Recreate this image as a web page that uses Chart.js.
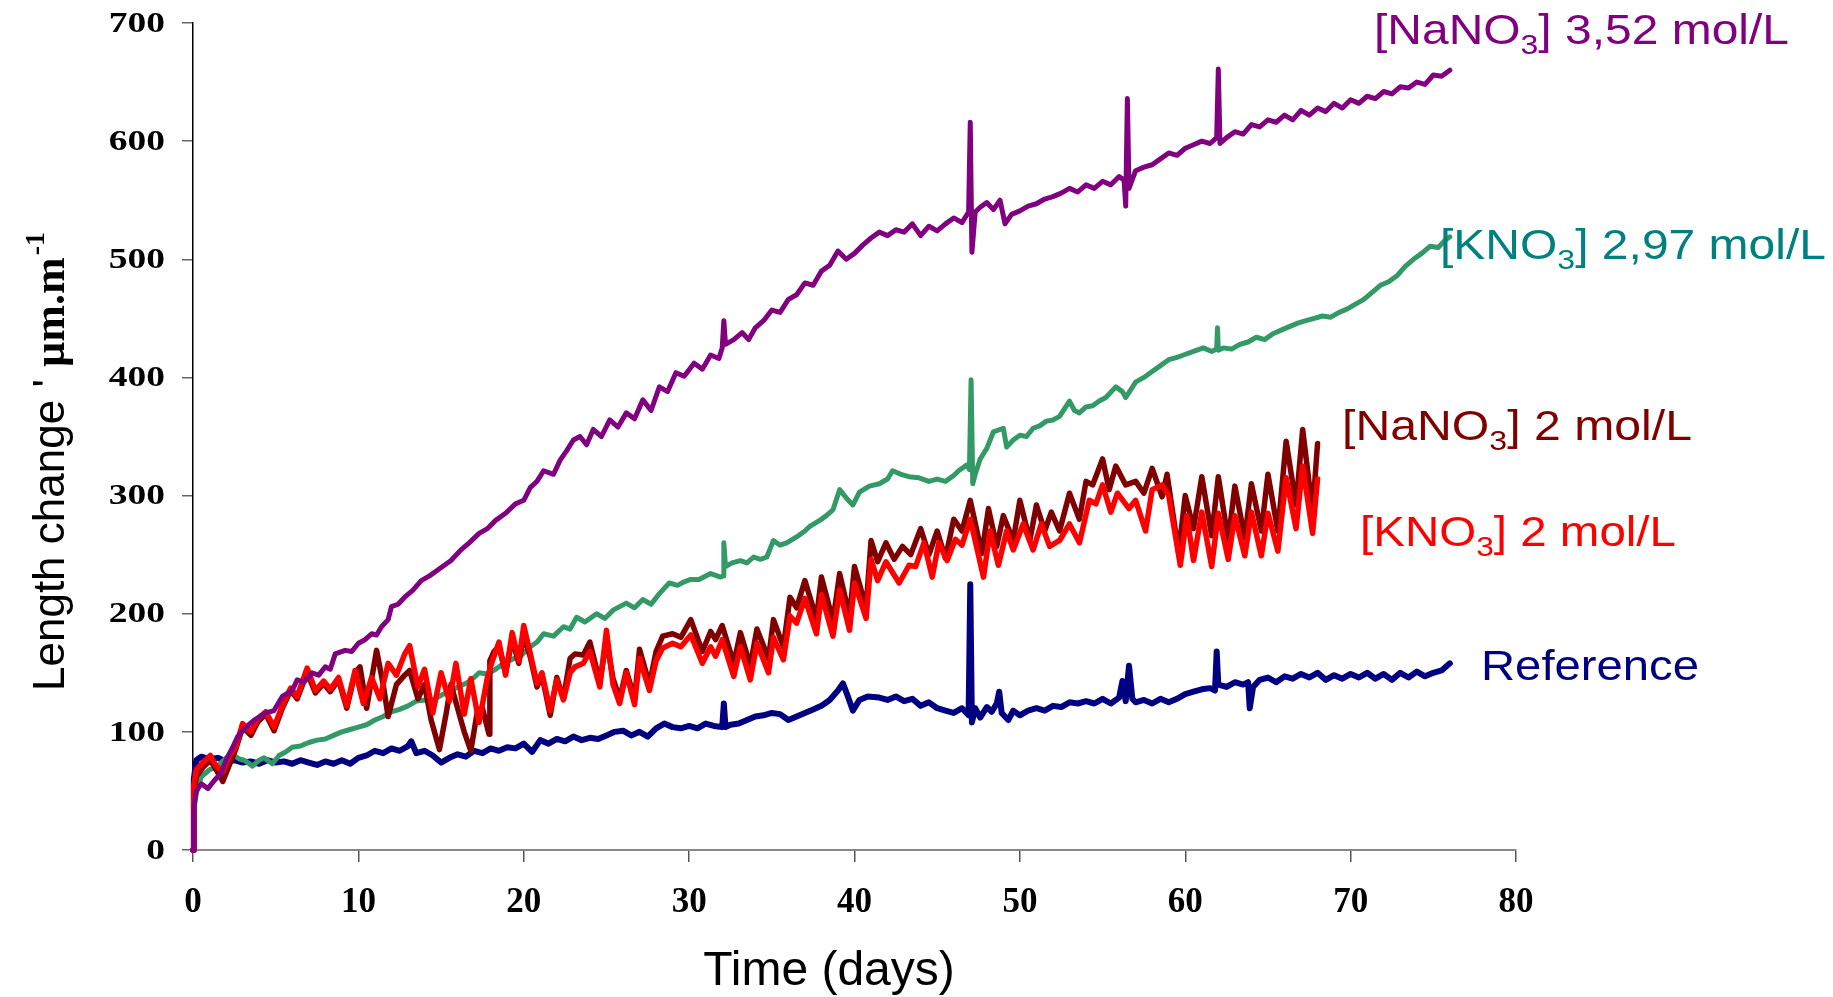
<!DOCTYPE html>
<html>
<head>
<meta charset="utf-8">
<script src="https://cdn.jsdelivr.net/npm/chart.js@4.4.0/dist/chart.umd.min.js"></script>
<style>
  html, body { margin: 0; padding: 0; background: #fff; }
  #wrap { width: 1833px; height: 997px; }
</style>
</head>
<body>
<div id="wrap"><canvas id="expansion" width="1833" height="997"></canvas></div>
<script>
(function(){

    var dayTicks = [0, 10, 20, 30, 40, 50, 60, 70, 80];
    var lengthTicks = [0, 100, 200, 300, 400, 500, 600, 700];

    var seriesNames = ['[NaNO3] 3,52 mol/L', '[KNO3] 2 mol/L', '[NaNO3] 2 mol/L', '[KNO3] 2,97 mol/L', 'Reference'];

    // [day, length change]
    var nano3High = [[0,0],[0.05,35],[0.2,50],[0.5,56],[0.9,52],[1.3,59],[1.7,65],[2,76],[2.4,87],[2.7,96],[3.2,104],[3.7,110],[4.4,116],[4.9,118],[5.4,130],[6,135],[6.3,144],[6.7,142],[7.2,150],[7.6,148],[8,155],[8.3,153],[8.6,166],[9.2,169],[9.6,168],[10,175],[10.4,178],[10.8,183],[11.1,182],[11.4,189],[11.8,195],[12,206],[12.4,208],[12.8,214],[13.3,220],[13.8,228],[14.3,232],[14.8,237],[15.2,241],[15.6,245],[16.2,254],[16.7,260],[17.3,268],[17.8,272],[18.3,279],[18.9,285],[19.5,293],[20,296],[20.4,307],[20.8,312],[21.2,321],[21.8,318],[22.2,330],[22.6,338],[23,347],[23.4,350],[23.8,343],[24.2,356],[24.7,350],[25.2,364],[25.7,358],[26.2,370],[26.7,365],[27.2,381],[27.7,372],[28.2,392],[28.7,388],[29.2,404],[29.7,401],[30.3,412],[30.8,407],[31.3,419],[31.8,416],[32.0,425],[32.1,448],[32.2,428],[32.7,432],[33.2,438],[33.6,432],[34,442],[34.5,448],[35,457],[35.5,455],[36,466],[36.5,470],[37,480],[37.5,478],[38,490],[38.5,495],[39,507],[39.5,500],[40,505],[40.5,512],[41,518],[41.5,523],[42,520],[42.5,525],[43,523],[43.5,530],[44,520],[44.5,528],[45,524],[45.5,530],[46,535],[46.5,531],[46.9,540],[47.0,616],[47.1,506],[47.3,540],[47.6,544],[48,548],[48.4,542],[48.8,550],[49.1,530],[49.5,538],[50,541],[50.5,545],[51,547],[51.5,551],[52,553],[52.5,556],[53,560],[53.5,557],[54,563],[54.5,560],[55,566],[55.5,563],[56,570],[56.3,567],[56.4,545],[56.5,636],[56.6,560],[57,575],[57.5,578],[58,580],[58.5,585],[59,590],[59.5,588],[60,594],[60.5,597],[61,600],[61.5,598],[61.9,603],[62.0,661],[62.1,598],[62.5,603],[63,608],[63.5,606],[64,614],[64.5,612],[65,618],[65.5,616],[66,622],[66.5,618],[67,626],[67.5,622],[68,628],[68.5,625],[69,632],[69.5,628],[70,635],[70.5,632],[71,638],[71.5,636],[72,642],[72.5,640],[73,646],[73.5,645],[74,650],[74.5,648],[75,656],[75.5,655],[76,660]];

    var kno3Low = [[0,0],[0.05,55],[0.2,68],[0.6,74],[1.05,80],[1.4,71],[1.8,66],[2.2,79],[2.6,88],[3.0,107],[3.5,100],[3.9,111],[4.4,117],[4.9,104],[5.4,122],[5.9,137],[6.3,130],[6.9,154],[7.4,135],[7.9,143],[8.3,136],[8.8,146],[9.3,122],[9.8,152],[10.3,124],[10.8,146],[11.3,128],[11.8,158],[12.3,148],[12.8,166],[13.1,173],[13.6,138],[14.0,153],[14.5,116],[15.0,150],[15.5,126],[15.9,158],[16.4,115],[16.8,145],[17.3,108],[17.8,146],[18.1,160],[18.5,176],[18.9,148],[19.3,184],[19.7,160],[20.0,190],[20.4,166],[20.8,141],[21.1,150],[21.6,118],[22.0,144],[22.4,127],[22.8,150],[23.1,155],[23.6,158],[24.0,168],[24.6,138],[25.0,186],[25.4,140],[25.8,124],[26.2,150],[26.7,123],[27.0,162],[27.6,135],[28.0,160],[28.4,171],[29.0,175],[29.5,172],[30.1,182],[30.8,158],[31.3,172],[31.6,164],[32.0,178],[32.7,147],[33.1,172],[33.7,144],[34.1,175],[34.8,150],[35.1,180],[35.7,161],[36.1,198],[36.5,192],[37.0,213],[37.7,183],[38.0,216],[38.7,181],[39.1,220],[39.7,186],[40.0,226],[40.7,196],[41.0,246],[41.4,228],[41.9,244],[42.7,226],[43.3,241],[43.7,240],[44.2,260],[44.7,231],[45.1,260],[45.6,245],[46.1,263],[46.5,258],[47.0,280],[47.8,231],[48.2,270],[48.7,241],[49.2,270],[49.6,254],[50.2,276],[50.8,254],[51.3,276],[51.8,257],[52.4,262],[53.0,276],[53.6,260],[54.2,296],[54.6,293],[55.0,309],[55.5,286],[55.9,302],[56.6,289],[57.0,296],[57.6,270],[58.0,305],[58.6,309],[59.0,300],[59.7,241],[60.1,283],[60.5,245],[61.0,286],[61.6,240],[62.0,285],[62.6,246],[63.0,283],[63.6,249],[64.0,286],[64.6,249],[65.0,285],[65.6,253],[66.1,315],[66.7,272],[67.1,325],[67.7,268],[68.0,314]];

    var nano3Low = [[0,0],[0.05,50],[0.2,62],[0.6,70],[1.05,76],[1.4,68],[1.8,58],[2.2,72],[2.6,86],[3.0,104],[3.5,97],[3.9,108],[4.4,115],[4.9,101],[5.4,120],[5.9,135],[6.3,128],[6.9,150],[7.4,133],[7.9,141],[8.3,134],[8.8,144],[9.3,120],[9.8,150],[10.1,155],[10.5,120],[11.1,169],[11.5,140],[11.8,113],[12.3,140],[12.8,148],[13.1,152],[13.6,128],[14.0,140],[14.4,110],[14.9,85],[15.3,115],[15.6,140],[16.0,120],[16.4,100],[16.8,84],[17.2,118],[17.5,120],[17.9,98],[17.95,160],[18.2,168],[18.5,172],[18.9,150],[19.3,178],[19.7,158],[20.0,182],[20.4,163],[20.8,138],[21.1,148],[21.6,114],[22.0,146],[22.4,128],[22.8,162],[23.1,166],[23.6,165],[24.0,176],[24.6,142],[25.0,178],[25.4,145],[25.8,128],[26.2,152],[26.7,128],[27.0,170],[27.6,140],[28.0,168],[28.4,181],[29.0,183],[29.5,180],[30.1,195],[30.8,168],[31.3,185],[31.6,178],[32.0,190],[32.7,158],[33.1,184],[33.7,156],[34.1,187],[34.8,162],[35.1,195],[35.7,172],[36.1,214],[36.5,205],[37.0,228],[37.7,196],[38.0,231],[38.7,194],[39.1,234],[39.7,198],[40.0,240],[40.7,205],[41.0,262],[41.4,244],[41.9,260],[42.4,246],[42.9,257],[43.4,250],[44.0,272],[44.5,250],[45.0,270],[45.5,247],[46.0,280],[46.5,270],[47.0,296],[47.7,251],[48.1,289],[48.6,257],[49.0,283],[49.6,262],[50.0,296],[50.6,262],[51.0,292],[51.5,270],[51.9,286],[52.4,270],[53.0,302],[53.6,280],[54.0,312],[54.4,309],[55.0,331],[55.4,305],[55.8,325],[56.4,309],[57.0,312],[57.5,302],[58.0,323],[58.6,299],[58.9,318],[59.6,252],[60.0,300],[60.5,272],[61.0,316],[61.6,266],[62.0,316],[62.6,262],[63.0,308],[63.6,264],[64.0,310],[64.6,270],[65.0,318],[65.6,270],[66.1,346],[66.7,292],[67.1,356],[67.7,286],[68.0,344]];

    var kno3High = [[0,0],[0.05,35],[0.2,48],[0.5,62],[1,68],[1.5,70],[1.7,74],[2.1,79],[2.5,80],[2.8,77],[3.1,76],[3.6,71],[4,76],[4.3,78],[4.8,73],[5.2,80],[5.6,83],[6,87],[6.5,88],[7,91],[7.5,93],[8,94],[8.5,97],[9,100],[9.5,102],[10,104],[10.5,106],[11,110],[11.5,113],[12,117],[12.5,119],[13,122],[13.5,126],[14,127],[14.4,126],[15,131],[15.6,135],[16,138],[16.5,141],[17,146],[17.3,150],[17.8,149],[18.3,153],[18.9,159],[19.4,162],[19.8,164],[20.4,172],[20.8,176],[21.2,183],[21.8,181],[22.4,189],[22.8,187],[23.2,197],[23.7,193],[24.4,200],[24.9,196],[25.4,203],[25.8,206],[26.2,209],[26.7,205],[27.2,212],[27.7,208],[28.2,217],[28.8,226],[29.3,224],[29.7,227],[30.1,229],[30.6,229],[31.3,234],[31.9,231],[32.05,232],[32.1,260],[32.2,240],[32.6,243],[33.1,245],[33.5,243],[33.9,248],[34.3,246],[34.7,248],[35.1,262],[35.5,258],[35.9,260],[36.5,265],[37,270],[37.3,274],[37.9,279],[38.3,283],[38.7,288],[39.1,305],[39.5,298],[39.9,292],[40.3,303],[40.9,308],[41.5,310],[42,314],[42.3,321],[42.8,318],[43.3,316],[43.9,315],[44.5,312],[45,314],[45.5,312],[46,317],[46.3,321],[46.8,326],[46.95,322],[47.05,398],[47.15,310],[47.3,318],[47.6,331],[48,340],[48.4,354],[49,357],[49.2,341],[49.6,347],[50,351],[50.4,350],[50.8,357],[51.2,359],[51.6,363],[52,364],[52.4,367],[53,380],[53.3,372],[53.6,370],[54,375],[54.4,376],[54.8,380],[55.2,383],[55.8,392],[56.2,388],[56.4,383],[57,396],[57.5,400],[58,405],[58.5,410],[59,415],[59.5,417],[59.9,419],[60.5,422],[61.1,425],[61.6,422],[61.9,424],[61.95,442],[62.0,423],[62.3,425],[62.8,424],[63.3,428],[63.8,430],[64.3,434],[64.8,432],[65.3,437],[65.8,440],[66.3,443],[66.8,446],[67.3,448],[67.8,450],[68.3,452],[68.8,451],[69.3,455],[69.8,458],[70.3,462],[70.8,466],[71.3,472],[71.8,478],[72.3,481],[72.8,486],[73.3,494],[73.8,500],[74.3,505],[74.8,511],[75.3,510],[75.7,516],[76,519]];

    var reference = [[0,0],[0.05,60],[0.2,76],[0.5,79],[1,77],[1.5,78],[2,75],[2.5,76],[3,74],[3.5,75],[4,73],[4.5,76],[5,74],[5.5,75],[6,73],[6.5,76],[7,74],[7.5,72],[8,75],[8.5,73],[9,76],[9.5,73],[10,78],[10.5,80],[11,84],[11.5,82],[12,86],[12.5,84],[13,88],[13.2,92],[13.5,82],[14,84],[14.5,80],[15,74],[15.5,78],[16,81],[16.5,79],[17,84],[17.5,82],[18,86],[18.5,84],[19,87],[19.5,86],[20,90],[20.5,83],[21,93],[21.5,90],[22,94],[22.5,92],[23,96],[23.5,93],[24,95],[24.5,94],[25,97],[25.5,100],[26,101],[26.5,97],[27,100],[27.5,96],[28,103],[28.5,107],[29,104],[29.5,103],[30,105],[30.5,103],[31,107],[31.5,105],[32,104],[32.1,124],[32.2,104],[32.5,106],[33,107],[33.5,110],[34,113],[34.5,114],[35,116],[35.5,115],[36,110],[36.5,113],[37,116],[37.5,119],[38,122],[38.5,127],[39,135],[39.3,141],[39.6,130],[39.9,118],[40.3,127],[40.8,130],[41.5,129],[42,127],[42.5,130],[43,126],[43.5,128],[44,122],[44.5,125],[45,120],[45.5,118],[46,116],[46.5,120],[46.9,114],[47.0,225],[47.1,108],[47.3,120],[47.6,112],[48,121],[48.3,117],[48.6,124],[48.75,134],[48.9,116],[49.3,110],[49.6,118],[50,114],[50.5,118],[51,120],[51.5,118],[52,122],[52.5,121],[53,125],[53.5,124],[54,126],[54.5,124],[55,128],[55.5,124],[56,129],[56.2,143],[56.4,126],[56.6,156],[56.8,128],[57,125],[57.5,127],[58,124],[58.5,128],[59,125],[59.5,128],[60,132],[60.5,134],[61,136],[61.5,137],[61.8,135],[61.9,168],[62.0,140],[62.5,138],[63,142],[63.5,140],[63.8,142],[63.9,120],[64.1,138],[64.5,144],[65,146],[65.5,142],[66,147],[66.5,145],[67,149],[67.5,146],[68,150],[68.5,144],[69,148],[69.5,145],[70,149],[70.5,146],[71,150],[71.5,145],[72,149],[72.5,144],[73,150],[73.5,146],[74,151],[74.5,147],[75,150],[75.5,152],[76,158]];

    function pts(arr){
        return arr.map(function(p){ return {x: p[0], y: p[1]}; });
    }

    function line(name, arr, color, width){
        return {
            label: name,
            data: pts(arr),
            borderColor: color,
            backgroundColor: color,
            borderWidth: width,
            pointRadius: 0,
            tension: 0,
            fill: false,
            clip: false,
            borderJoinStyle: 'round',
            borderCapStyle: 'round'
        };
    }

    // labels placed beside the curves, as in the figure
    var curveLabels = [
        {text: seriesNames[0], color: '#800080', x: 1374, y: 44, w: 415},
        {text: seriesNames[3], color: '#008080', x: 1440, y: 259, w: 386},
        {text: seriesNames[2], color: '#800000', x: 1342, y: 440, w: 350},
        {text: seriesNames[1], color: '#ff0000', x: 1360, y: 546, w: 316},
        {text: seriesNames[4], color: '#000080', x: 1481, y: 680, w: 218}
    ];

    function pieces(text){
        var i = text.indexOf('NO3');
        if (i < 0) return [{t: text, sub: false}];
        return [{t: text.slice(0, i + 2), sub: false}, {t: '3', sub: true}, {t: text.slice(i + 3), sub: false}];
    }

    var textLayer = {
        id: 'textLayer',
        afterDraw: function(chart){
            var ctx = chart.ctx;
            var big = '42px "Liberation Sans"';
            var small = '28px "Liberation Sans"';

            curveLabels.forEach(function(l){
                var parts = pieces(l.text);
                var total = 0;
                parts.forEach(function(p){
                    ctx.font = p.sub ? small : big;
                    p.w = ctx.measureText(p.t).width;
                    total += p.w;
                });
                ctx.save();
                ctx.translate(l.x, l.y);
                ctx.scale(l.w / total, 1);
                ctx.fillStyle = l.color;
                ctx.textBaseline = 'alphabetic';
                ctx.textAlign = 'left';
                var cx = 0;
                parts.forEach(function(p){
                    ctx.font = p.sub ? small : big;
                    ctx.fillText(p.t, cx, p.sub ? 10 : 0);
                    cx += p.w;
                });
                ctx.restore();
            });

            // y tick labels, drawn a bit wide like the original
            var ys = chart.scales.y;
            ctx.save();
            ctx.fillStyle = '#000';
            ctx.font = 'bold 30px "Liberation Serif"';
            ctx.textAlign = 'right';
            ctx.textBaseline = 'middle';
            lengthTicks.forEach(function(v){
                ctx.save();
                ctx.translate(165, ys.getPixelForValue(v) + 1);
                ctx.scale(1.25, 1);
                ctx.fillText(String(v), 0, 0);
                ctx.restore();
            });
            ctx.restore();

            // x title
            ctx.save();
            ctx.fillStyle = '#000';
            ctx.font = '48px "Liberation Sans"';
            ctx.textAlign = 'center';
            ctx.textBaseline = 'alphabetic';
            ctx.fillText('Time (days)', 829, 985);
            ctx.restore();

            // y title
            ctx.save();
            ctx.translate(64, 691);
            ctx.rotate(-Math.PI / 2);
            ctx.fillStyle = '#000';
            ctx.textAlign = 'left';
            ctx.textBaseline = 'alphabetic';
            var px = 0;
            ctx.font = '44px "Liberation Sans"';
            ctx.fillText('Length change ', px, 0);
            px += ctx.measureText('Length change ').width;
            ctx.fillText("' ", px, 0);
            px += ctx.measureText("' ").width;
            ctx.font = 'bold 44px "Liberation Serif"';
            ctx.fillText('\u00b5m.m', px, 0);
            px += ctx.measureText('\u00b5m.m').width;
            ctx.font = 'bold 28px "Liberation Serif"';
            ctx.fillText('-1', px + 2, -20);
            ctx.restore();
        }
    };

    var ctx = document.getElementById('expansion');
    var expansion = new Chart(ctx, {
        type: 'line',
        data: {
            datasets: [
                line(seriesNames[0], nano3High, '#800080', 5),
                line(seriesNames[1], kno3Low, '#ff0000', 5.5),
                line(seriesNames[2], nano3Low, '#800000', 5.5),
                line(seriesNames[3], kno3High, '#339966', 5),
                line(seriesNames[4], reference, '#000080', 6)
            ]
        },
        options: {
            responsive: false,
            animation: false,
            devicePixelRatio: 1,
            layout: { padding: { left: 0, top: 23, right: 317, bottom: 0 } },
            plugins: {
                legend: { display: false },
                tooltip: { enabled: false },
                title: { display: false }
            },
            scales: {
                x: {
                    type: 'linear',
                    min: 0,
                    max: 80,
                    afterBuildTicks: function(scale){
                        scale.ticks = dayTicks.map(function(v){ return {value: v}; });
                    },
                    afterFit: function(scale){ scale.height = 147; },
                    grid: { drawOnChartArea: false, drawTicks: true, tickLength: 12, color: '#555', lineWidth: 1.5 },
                    border: { display: true, color: '#888', width: 2 },
                    ticks: {
                        color: '#000',
                        padding: 20,
                        maxRotation: 0,
                        font: { family: '"Liberation Serif"', size: 35, weight: 'bold' }
                    }
                },
                y: {
                    type: 'linear',
                    min: 0,
                    max: 700,
                    afterBuildTicks: function(scale){
                        scale.ticks = lengthTicks.map(function(v){ return {value: v}; });
                    },
                    afterFit: function(scale){ scale.width = 193; },
                    grid: { drawOnChartArea: false, drawTicks: true, tickLength: 11, color: '#666', lineWidth: 1.5 },
                    border: { display: true, color: '#000', width: 1.5 },
                    ticks: {
                        display: false,
                        padding: 17
                    }
                }
            }
        },
        plugins: [textLayer]
    });

}());
</script>
</body>
</html>
